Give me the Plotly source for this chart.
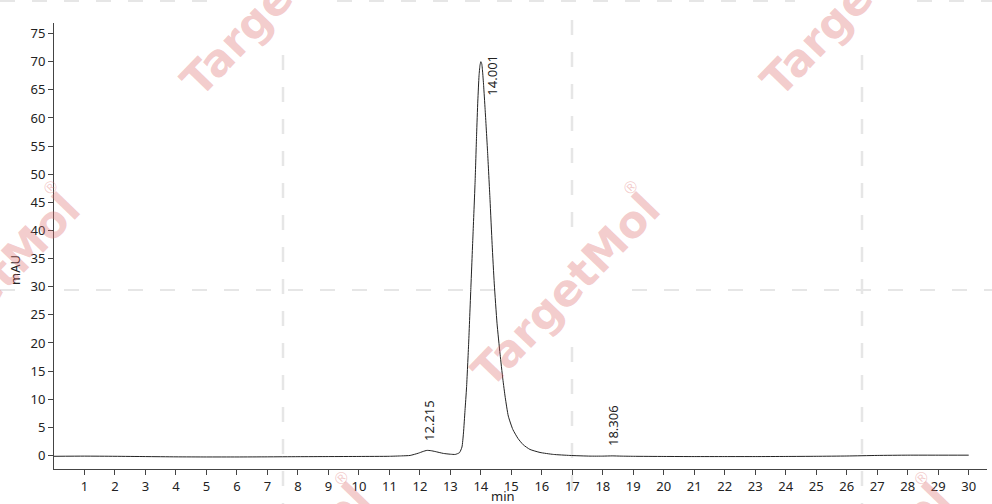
import numpy as np
import plotly.graph_objects as go

# ---------------- data ----------------
time_min = [0.0, 1.0, 2.0, 3.0, 4.0, 5.0, 6.0, 7.0, 8.0, 9.0, 10.0, 11.0, 11.4,
            11.68, 11.95, 12.1, 12.23, 12.36, 12.5, 12.77, 13.0, 13.16, 13.3, 13.38,
            13.43, 13.48, 13.53, 13.6, 13.67, 13.74, 13.81, 13.86, 13.9, 13.94,
            13.97, 14.0, 14.03, 14.06, 14.09, 14.14, 14.22, 14.3, 14.37, 14.44,
            14.53, 14.63, 14.72, 14.8, 14.9, 15.05, 15.22, 15.39, 15.61, 15.94,
            16.38, 16.92, 17.58, 18.0, 18.306, 18.6, 19.0, 20.0, 21.0, 22.0, 23.0,
            24.0, 25.0, 26.0, 27.0, 28.0, 29.0, 30.0]
signal_mau = [-0.15, -0.12, -0.15, -0.2, -0.25, -0.27, -0.27, -0.25, -0.22, -0.2,
              -0.18, -0.15, -0.08, 0.0, 0.4, 0.7, 0.9, 0.85, 0.7, 0.36, 0.22, 0.18,
              0.5, 1.5, 4.0, 8.0, 12.0, 20.0, 29.5, 39.0, 48.5, 57.0, 63.0, 67.5,
              69.3, 70.0, 69.6, 68.0, 65.8, 61.5, 54.0, 45.5, 37.5, 30.5, 23.5, 18.0,
              13.6, 10.3, 7.0, 4.6, 3.0, 1.9, 1.07, 0.53, 0.18, 0.0, -0.12, -0.12,
              -0.08, -0.12, -0.15, -0.18, -0.2, -0.2, -0.2, -0.18, -0.15, -0.1, 0.0,
              0.05, 0.05, 0.05]

peak_rt = [12.215, 14.001, 18.306]
peak_labels = ["12.215", "14.001", "18.306"]

x_tick_vals = list(range(1, 31))
y_tick_vals = list(range(0, 80, 5))

x_axis_title = "min"
y_axis_title = "mAU"
watermark_text = "<b>TargetMol</b>"

# ---------------- layout geometry / style ----------------
W, H = 992, 504
ML, MR, MT, MB = 54, 5, 23, 35
PW, PH = W - ML - MR, H - MT - MB

def px_x(px):
    return (px - ML) / PW

def px_y(py):
    return (H - MB - py) / PH

# label offsets (pixels) for each peak label
label_shift = [(2, 30), (11, -13), (1, 30)]

fig = go.Figure()
fig.add_trace(go.Scatter(
    x=time_min, y=signal_mau, mode="lines",
    line=dict(color="#222222", width=1, shape="spline", smoothing=0.5),
    hoverinfo="skip", showlegend=False,
))

annotations = []
peak_heights = np.interp(peak_rt, time_min, signal_mau)
for rt, lab, h, (dx, dy) in zip(peak_rt, peak_labels, peak_heights, label_shift):
    annotations.append(dict(
        x=rt, y=float(h), xref="x", yref="y", text=lab, showarrow=False,
        textangle=-90, xanchor="center", yanchor="middle",
        xshift=dx, yshift=dy,
        font=dict(family="Noto Sans", size=13, color="#222222"),
    ))

# axis titles
annotations.append(dict(x=px_x(503), y=px_y(496), xref="paper", yref="paper",
                        text=x_axis_title, showarrow=False,
                        xanchor="center", yanchor="middle",
                        font=dict(family="Noto Sans", size=13, color="#222222")))
annotations.append(dict(x=px_x(15), y=px_y(270), xref="paper", yref="paper",
                        text=y_axis_title, showarrow=False, textangle=-90,
                        xanchor="center", yanchor="middle",
                        font=dict(family="Noto Sans", size=13, color="#222222")))

# watermarks
wm_color = "rgba(222,110,110,0.36)"
wm_centers = [(565, 290), (-15, 290), (275, 0), (855, 0), (275, 580), (855, 580)]
for cx, cy in wm_centers:
    annotations.append(dict(x=px_x(cx), y=px_y(cy), xref="paper", yref="paper",
                            text=watermark_text, showarrow=False, textangle=-46,
                            xanchor="center", yanchor="middle",
                            font=dict(family="DejaVu Sans", size=44, color=wm_color,
                                      weight=900)))
    annotations.append(dict(x=px_x(cx + 66), y=px_y(cy - 102), xref="paper", yref="paper",
                            text="®", showarrow=False, textangle=-45,
                            xanchor="center", yanchor="middle",
                            font=dict(family="Liberation Sans", size=17, color=wm_color)))

# dashed watermark grid lines
shapes = []
v_segments = [(283, 55, 504), (572, 20, 228), (572, 347, 504), (862, 55, 504)]
for x0, y0, y1 in v_segments:
    shapes.append(dict(type="line", xref="paper", yref="paper",
                       x0=px_x(x0), x1=px_x(x0), y0=px_y(y0), y1=px_y(y1),
                       line=dict(color="#e6e6e6", width=2.5, dash="15px,17px"),
                       layer="below"))
h_segments = [(290, 0, 512), (290, 632, 992), (1, 0, 215), (1, 337, 795), (1, 917, 992)]
for y0, x0, x1 in h_segments:
    shapes.append(dict(type="line", xref="paper", yref="paper",
                       x0=px_x(x0), x1=px_x(x1), y0=px_y(y0), y1=px_y(y0),
                       line=dict(color="#e6e6e6", width=2, dash="15px,17px"),
                       layer="below"))

axis_common = dict(
    showgrid=False, zeroline=False, showline=True, linecolor="#444444", linewidth=1,
    ticks="outside", ticklen=5, tickwidth=1, tickcolor="#444444", automargin=False,
    tickfont=dict(family="Noto Sans", size=13, color="#222222"),
)

fig.update_layout(
    width=W, height=H,
    margin=dict(l=ML, r=MR, t=MT, b=MB, pad=0, autoexpand=False),
    paper_bgcolor="white", plot_bgcolor="rgba(0,0,0,0)",
    xaxis=dict(range=[0, 30.6], tickmode="array", tickvals=x_tick_vals,
               ticktext=[str(v) for v in x_tick_vals], **axis_common),
    yaxis=dict(range=[-2.41, 76.88], tickmode="array", tickvals=y_tick_vals,
               ticktext=[str(v) for v in y_tick_vals], **axis_common),
    annotations=annotations,
    shapes=shapes,
    showlegend=False,
)

fig.write_html(
    "out.html",
    config={"displayModeBar": False, "staticPlot": True},
    post_script="document.body.style.margin='0';document.body.style.overflow='hidden';",
)
